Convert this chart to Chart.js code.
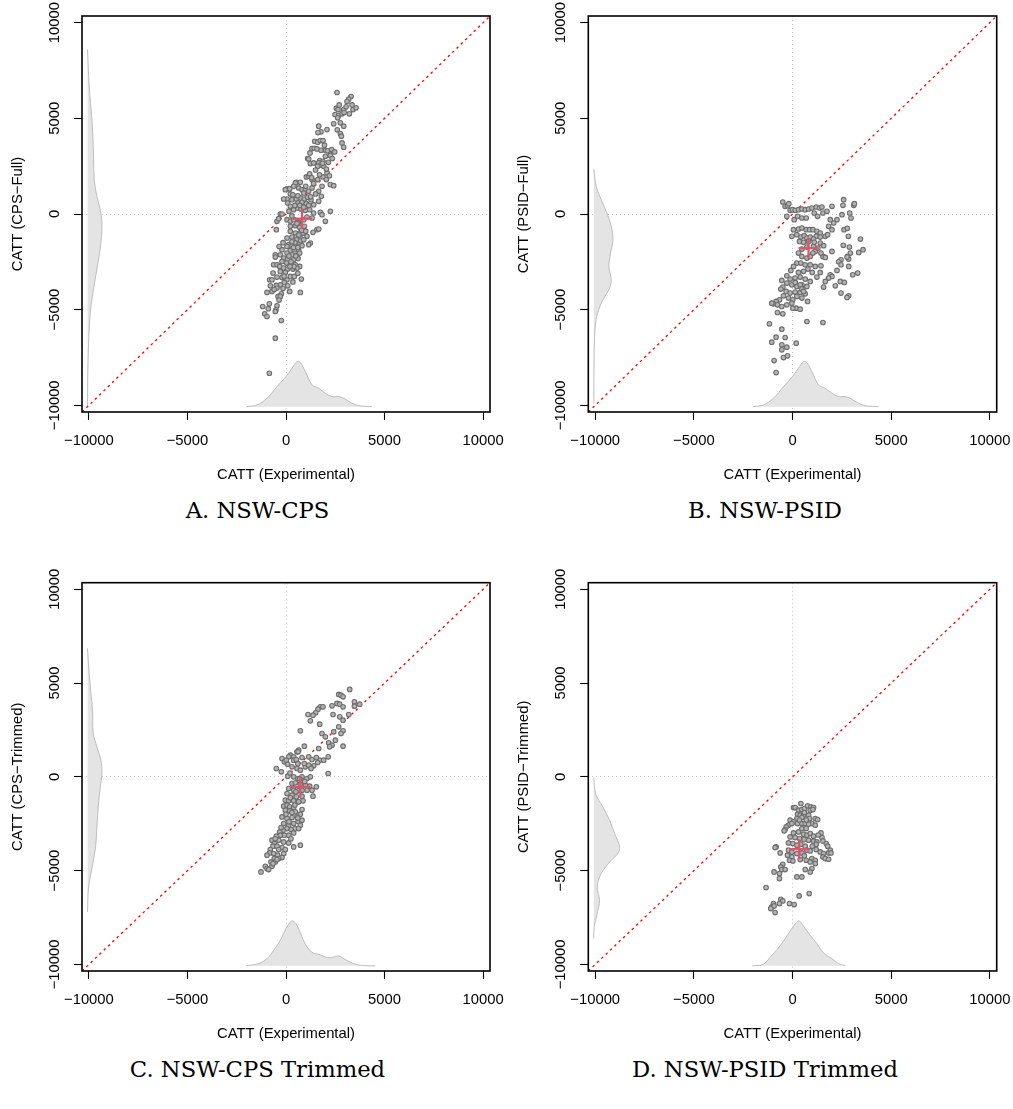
<!DOCTYPE html>
<html><head><meta charset="utf-8">
<script src="https://cdn.jsdelivr.net/npm/chart.js@4.4.1/dist/chart.umd.min.js"></script>
<style>
html,body{margin:0;padding:0;background:#fff;}
body{width:1013px;height:1109px;position:relative;overflow:hidden;}
canvas{position:absolute;}
.cap{position:absolute;width:400px;text-align:center;font-family:"DejaVu Serif",serif;font-size:22.7px;line-height:1;color:#000;white-space:nowrap;}
</style></head><body>
<canvas id="cA" width="506" height="490" style="left:0;top:0"></canvas>
<canvas id="cB" width="507" height="490" style="left:506px;top:0"></canvas>
<canvas id="cC" width="506" height="490" style="left:0;top:560px"></canvas>
<canvas id="cD" width="507" height="490" style="left:506px;top:560px"></canvas>
<div class="cap" style="left:57.5px;top:499px">A. NSW-CPS</div>
<div class="cap" style="left:565px;top:499px">B. NSW-PSID</div>
<div class="cap" style="left:57.5px;top:1058px">C. NSW-CPS Trimmed</div>
<div class="cap" style="left:565px;top:1058px">D. NSW-PSID Trimmed</div>
<script>
const AXIS_MIN = -10350, AXIS_MAX = 10350;
const TICK_VALUES = [-10000, -5000, 0, 5000, 10000];
const X_TITLE = 'CATT (Experimental)';
const Y_TITLES = ['CATT (CPS\u2212Full)', 'CATT (PSID\u2212Full)', 'CATT (CPS\u2212Trimmed)', 'CATT (PSID\u2212Trimmed)'];

const pointsA = [[2589,6352],[3300,6143],[3181,6000],[3097,5880],[2555,5532],[2640,5460],[2927,5460],[3400,5460],[3553,5550],[2487,5200],[2673,5148],[2843,5235],[3215,5235],[2623,5026],[2758,4764],[2420,4712],[2927,4590],[1658,4590],[2081,4415],[1777,4293],[1624,4258],[2758,4205],[2809,4066],[2843,3717],[2927,3490],[1455,3804],[1607,3752],[1743,3840],[1878,3840],[1320,3420],[1438,3438],[1573,3403],[1777,3333],[1997,3333],[2216,3281],[2318,3368],[2470,3246],[1218,3193],[1100,2897],[1150,2880],[1709,2792],[2000,3019],[2250,3054],[1235,2635],[1404,2670],[1658,2670],[1878,2757],[1743,2548],[1912,2495],[1607,2495],[1032,1937],[1150,1972],[1320,1797],[1607,1797],[1878,1937],[2081,2146],[2047,1797],[1827,1448],[2250,1536],[2420,1483],[1658,1187],[1793,925],[1320,1361],[525,1658],[474,1623],[728,1658],[51,1309],[-34,1274],[186,1326],[389,1448],[643,1361],[812,1274],[981,1239],[1150,1187],[220,1047],[51,785],[-118,785],[304,750],[525,785],[728,838],[930,785],[1100,872],[1269,750],[610,576],[812,611],[1032,541],[1404,489],[1658,663],[85,576],[220,401],[389,227],[592,314],[761,262],[981,192],[1201,227],[1404,52],[1743,87],[2250,140],[1827,-35],[-288,0],[-203,0],[-457,-384],[-372,-244],[51,-297],[220,-384],[389,-297],[643,-384],[897,-297],[1066,-157],[1320,-209],[1997,-384],[-491,-820],[220,-646],[474,-611],[728,-611],[930,-646],[1573,-820],[1658,-785],[1370,-960],[220,-907],[474,-995],[694,-995],[863,-995],[51,-1256],[304,-1204],[525,-1204],[728,-1256],[1066,-1169],[1235,-1518],[1150,-1605],[135,-1605],[304,-1658],[525,-1570],[694,-1518],[812,-1658],[220,-1902],[423,-1867],[643,-1902],[-203,-1867],[51,-2042],[304,-2129],[508,-2181],[694,-2042],[-288,-2129],[-542,-2129],[-542,-2251],[-118,-2303],[85,-2356],[389,-2391],[610,-2321],[-203,-2478],[34,-2565],[220,-2652],[474,-2652],[694,-2740],[-626,-2652],[-457,-2652],[-322,-2740],[-118,-2827],[85,-2879],[355,-2879],[558,-2827],[-288,-3001],[-34,-3054],[220,-3263],[423,-3263],[778,-3403],[-660,-3089],[-457,-3298],[-203,-3315],[-829,-3438],[-711,-3438],[51,-3438],[-85,-3578],[-288,-3700],[-491,-3734],[-457,-3874],[85,-3752],[-795,-3752],[-711,-4048],[-964,-4101],[186,-4048],[728,-4101],[-237,-4171],[-406,-4310],[-288,-4310],[-1184,-4834],[-846,-4694],[-457,-4799],[-508,-5008],[-542,-5095],[-1083,-5218],[-964,-5357],[-237,-5567],[-542,-6491],[-846,-8324],[600,-450],[700,-700],[800,-850],[650,-1100],[550,-1350],[450,-1500],[380,-1750],[300,-1450],[600,-1750],[150,-2200],[250,-2500],[400,-2750],[500,-2200],[750,-1400],[900,-1350],[1000,-900],[550,-500],[300,-100],[150,150],[450,450],[700,450],[900,350],[1150,450],[1250,900],[600,950],[350,1000],[900,1100],[1000,1450],[1500,1050],[1400,1600],[1200,2100],[1500,2300],[2150,2700],[2350,2900],[1950,3600],[2100,3300],[2600,4400],[2950,5300],[3050,5600],[3350,5700],[2700,5700],[1300,1900],[1700,2050],[2200,2000],[1850,2650],[2050,2350],[-150,-1500],[-350,-1700],[50,-1700],[200,-2750],[-100,-3250],[-600,-3950],[-350,-4500],[-900,-4950],[-150,-3900],[350,-3550],[600,-3100]];
const meanA = [812, -244];

const pointsB = [[-492,628],[-373,401],[-254,436],[-186,541],[-288,-122],[-119,192],[0,227],[136,192],[305,227],[475,262],[644,227],[814,262],[983,314],[1203,366],[1373,314],[1492,366],[1102,52],[1271,-122],[1542,52],[1746,140],[2000,401],[2593,750],[2559,454],[3102,454],[3136,541],[2899,52],[2966,-209],[2508,-35],[2254,-297],[2085,-471],[1915,-297],[1831,-646],[2000,-820],[2610,-820],[2780,-750],[2831,-1169],[2576,-1640],[2881,-1728],[3441,-1309],[3577,-1867],[3356,-2007],[2797,-2216],[2848,-2356],[2458,-2391],[2339,-2495],[2848,-2740],[2458,-2652],[3305,-3089],[3051,-3176],[2254,-2949],[1915,-3176],[2000,-3263],[1831,-3350],[2424,-3525],[2627,-3578],[2169,-3752],[1661,-3525],[1576,-3822],[2458,-4136],[2848,-4275],[2763,-4363],[1407,-3054],[1237,-3298],[1441,-2705],[1542,-2216],[1661,-2268],[1441,-2042],[1153,-1954],[1288,-1780],[1068,-1693],[729,-1728],[475,-1832],[305,-2042],[475,-2216],[729,-2303],[898,-2216],[1034,-2042],[220,-2565],[424,-2565],[644,-2652],[898,-2652],[1153,-2740],[780,-2879],[1000,-3054],[560,-2999],[305,-3054],[51,-2740],[-85,-2949],[-288,-3228],[-119,-3403],[136,-3350],[390,-3298],[644,-3403],[898,-3525],[475,-3700],[729,-3787],[220,-3787],[-34,-3700],[-288,-3612],[-542,-3473],[-492,-3822],[-593,-3926],[-322,-4048],[-119,-4136],[136,-4083],[390,-4101],[644,-4171],[-458,-4275],[-203,-4397],[17,-4485],[220,-4310],[475,-4397],[763,-4572],[-661,-4485],[-831,-4572],[-966,-4694],[-1051,-4659],[-763,-4746],[-542,-4834],[-288,-4746],[-34,-4659],[186,-4921],[390,-4973],[17,-4921],[-763,-5148],[-492,-5218],[729,-5619],[1542,-5671],[-1170,-5741],[-542,-6020],[-831,-6439],[-373,-6456],[-1051,-6700],[-542,-6840],[186,-6753],[-542,-7102],[-288,-6962],[-458,-7503],[-254,-7416],[-932,-7660],[-831,-8289],[85,-297],[254,-122],[475,-209],[695,-209],[51,-820],[305,-785],[475,-733],[695,-820],[865,-820],[1034,-820],[1237,-907],[1407,-995],[1203,-1169],[1407,-1204],[1661,-1169],[1780,-1082],[-34,-1169],[220,-1082],[424,-1204],[593,-1134],[729,-1256],[898,-1204],[1068,-1309],[356,-1431],[560,-1483],[814,-1431],[1102,-1483],[1407,-1518],[1576,-1658],[2000,-1954],[2932,-2042],[2763,-2251],[390,-3700],[136,-3578],[475,-3926],[560,-4048]];
const meanB = [814, -1780];

const pointsC = [[3232,4658],[2673,4392],[2792,4356],[2894,4267],[2589,3912],[2724,3876],[2894,3734],[3469,4000],[3740,3876],[3469,3769],[2335,3787],[1743,3734],[1878,3734],[1624,3609],[1506,3414],[1370,3289],[1117,3325],[2386,3325],[2724,3200],[3181,3325],[2894,3023],[1235,2987],[1709,2809],[2673,2667],[728,2454],[1827,2311],[2420,2400],[2894,2454],[2792,2311],[1997,2134],[2166,1813],[2335,1689],[2504,1956],[2894,1636],[2216,1600],[930,1636],[643,1422],[558,1334],[220,1156],[389,1067],[135,1067],[389,889],[525,925],[610,1334],[812,1031],[1150,1067],[1320,925],[1709,889],[1912,889],[1607,765],[1404,587],[1235,534],[1540,1031],[1658,1511],[2140,1067],[-203,978],[-85,800],[17,889],[85,676],[304,534],[558,445],[728,356],[981,534],[1150,622],[930,711],[-491,445],[-237,267],[2140,178],[1269,445],[85,36],[389,0],[610,-89],[812,0],[1066,-89],[1235,0],[304,-356],[474,-320],[728,-391],[981,-445],[1201,-498],[1540,-534],[135,-622],[389,-711],[610,-747],[812,-711],[1066,-711],[1320,-711],[51,-889],[304,-978],[525,-1067],[812,-1031],[1370,-1031],[-34,-1245],[135,-1280],[389,-1280],[610,-1334],[863,-1280],[-118,-1565],[51,-1511],[186,-1600],[389,-1636],[-34,-1778],[186,-1814],[474,-1867],[812,-1742],[728,-1991],[-203,-2134],[51,-2222],[304,-2169],[558,-2134],[-118,-2489],[135,-2578],[389,-2489],[610,-2365],[728,-2578],[51,-2756],[270,-2809],[474,-2756],[-152,-2845],[-322,-2934],[389,-2987],[643,-2756],[135,-3111],[-85,-3111],[-288,-3111],[-491,-3165],[-372,-3378],[-118,-3467],[135,-3520],[389,-3734],[728,-3645],[-711,-3378],[-592,-3556],[-660,-3698],[-457,-3698],[-203,-3769],[-34,-3876],[-372,-3876],[-795,-3876],[-829,-4054],[-964,-4178],[-626,-4089],[-423,-4178],[-118,-4089],[-203,-4303],[-372,-4356],[-592,-4356],[-761,-4534],[-542,-4534],[-457,-4409],[-1049,-4765],[-964,-4890],[-711,-4765],[-660,-4623],[-880,-4943],[-1269,-5067],[643,-1334],[220,-1120],[812,-2311],[450,-1500],[300,-1900],[150,-2400],[600,-2200],[-250,-2700],[-550,-3300],[250,-3300],[0,-2000],[500,-800],[950,-250],[700,-100],[200,200],[600,700]];
const meanC = [728, -533];

const pointsD = [[424,-1422],[51,-1636],[136,-1636],[305,-1778],[475,-1742],[610,-1689],[763,-1547],[932,-1600],[1068,-1636],[898,-1778],[1034,-1742],[254,-1991],[390,-2045],[560,-2045],[220,-2222],[475,-2169],[814,-2045],[865,-2222],[1153,-2222],[1271,-2276],[983,-2489],[1153,-2578],[-119,-2311],[51,-2400],[-203,-2578],[-322,-2667],[-373,-2809],[-424,-2880],[-34,-2489],[254,-2489],[475,-2489],[644,-2489],[814,-2525],[475,-2756],[695,-2756],[51,-2987],[305,-2934],[560,-3058],[729,-3111],[898,-3023],[1068,-3165],[1441,-2987],[1492,-3236],[-119,-3200],[136,-3236],[356,-3289],[593,-3343],[814,-3378],[1068,-3431],[1237,-3467],[1203,-3591],[1542,-3414],[1712,-3556],[1780,-3698],[-203,-3520],[17,-3556],[220,-3645],[424,-3591],[644,-3698],[-831,-3734],[-881,-3769],[-203,-3911],[-34,-4000],[220,-4089],[475,-4054],[729,-3911],[898,-3947],[1203,-3876],[1407,-4000],[1576,-4089],[1831,-4054],[1915,-3911],[1949,-4054],[-627,-4054],[-254,-4178],[-34,-4267],[-153,-4445],[17,-4480],[390,-4409],[695,-4445],[983,-4356],[1153,-4445],[1542,-4267],[1661,-4356],[1831,-4392],[1153,-4623],[898,-4534],[-492,-4658],[-593,-4801],[-542,-4943],[-373,-4943],[-932,-5067],[-661,-5156],[-661,-5423],[220,-5334],[475,-5334],[644,-4943],[983,-4890],[898,-5067],[-1339,-5903],[-593,-6525],[-492,-6614],[-153,-6756],[85,-6809],[339,-6347],[847,-6223],[-661,-6756],[-966,-6756],[-1051,-6934],[-932,-6881],[-881,-7236],[-1102,-7023],[600,-1900],[700,-2300],[350,-2300],[1300,-3100],[1000,-3700],[600,-4200]];
const meanD = [339, -3858];

const densExpFull = [[-2013,-10070],[-1472,-9981],[-964,-9632],[-457,-9022],[0,-8498],[305,-8062],[558,-7713],[728,-7765],[981,-8236],[1320,-8934],[1658,-9109],[1997,-9371],[2335,-9545],[2673,-9545],[2927,-9632],[3350,-9894],[3773,-10034],[4365,-10070]];
const densExpCpsTrim = [[-2013,-10070],[-1387,-9957],[-964,-9690],[-626,-9246],[-288,-8712],[0,-8090],[220,-7734],[355,-7681],[558,-7912],[812,-8534],[1066,-9068],[1370,-9388],[1658,-9459],[1997,-9601],[2250,-9637],[2673,-9548],[2927,-9690],[3435,-9957],[3942,-10060],[4535,-10070]];
const densExpPsidTrim = [[-2034,-10070],[-1475,-9992],[-1051,-9512],[-712,-9121],[-373,-8623],[-34,-8090],[305,-7681],[559,-7966],[898,-8446],[1237,-8890],[1576,-9388],[2000,-9690],[2339,-9957],[2678,-10070]];
const densCpsFull = [[-10070,8603],[-9985,6683],[-9849,4937],[-9765,3192],[-9731,1796],[-9595,923],[-9426,225],[-9341,-386],[-9358,-1171],[-9460,-2044],[-9629,-3091],[-9798,-4138],[-9934,-5185],[-10002,-6407],[-10052,-8152],[-10070,-10069]];
const densPsidFull = [[-10070,2356],[-9950,1448],[-9696,750],[-9408,52],[-9188,-646],[-9102,-1344],[-9221,-2042],[-9306,-2740],[-9188,-3438],[-9306,-3961],[-9611,-4485],[-9882,-5183],[-10000,-5881],[-10051,-7102],[-10070,-9894]];
const densCpsTrim = [[-10070,6845],[-9999,5689],[-9898,4445],[-9814,3556],[-9780,2311],[-9594,1600],[-9391,889],[-9340,178],[-9424,-533],[-9526,-1600],[-9594,-2667],[-9661,-3734],[-9830,-4801],[-10016,-5867],[-10070,-7201]];
const densPsidTrim = [[-10070,-36],[-9983,-889],[-9611,-1600],[-9272,-2311],[-9018,-3023],[-8764,-3734],[-8848,-4089],[-9187,-4445],[-9696,-5156],[-9899,-5867],[-9780,-6578],[-9899,-7290],[-10051,-8001],[-10070,-8623]];

const SANS = "'Liberation Sans', Arial, Helvetica, sans-serif";
const FONT = {family: SANS, size: 14.8};
const fmt = v => (v < 0 ? '\u2212' : '') + Math.abs(v);
const toXY = arr => arr.map(p => ({x: p[0], y: p[1]}));

const framePlugin = {
  id: 'frame',
  afterDraw(chart) {
    const {ctx, chartArea: a} = chart;
    ctx.save();
    ctx.strokeStyle = '#000';
    ctx.lineWidth = 1.6;
    ctx.strokeRect(a.left, a.top, a.right - a.left, a.bottom - a.top);
    ctx.restore();
  }
};

function densitySet(arr) {
  return {type: 'line', data: toXY(arr), borderColor: '#bdbdbd', borderWidth: 1,
    backgroundColor: '#e4e4e4', fill: 'shape', pointRadius: 0, tension: 0.35, order: 3};
}

function makeChart(id, pts, mean, densB, densL, yTitle, area) {
  const canvas = document.getElementById(id);
  const W = canvas.width, H = canvas.height;
  const XH = 71.5;
  const gridOpts = {
    drawOnChartArea: true,
    color: c => (c.tick && c.tick.value === 0) ? '#c4c4c4' : 'rgba(0,0,0,0)',
    lineWidth: 1, tickColor: '#000', tickLength: 8, tickWidth: 1.1
  };
  const setTicks = s => { s.ticks = TICK_VALUES.map(v => ({value: v})); };
  new Chart(canvas, {
    type: 'scatter',
    data: {datasets: [
      {type: 'scatter', data: [{x: mean[0], y: mean[1]}], pointStyle: 'cross', pointRadius: 10,
        pointBorderWidth: 2.3, borderColor: '#DF536B', backgroundColor: '#DF536B', order: 0},
      {type: 'scatter', data: toXY(pts), pointRadius: 2.3, borderWidth: 1.1,
        borderColor: '#6e6e6e', backgroundColor: '#b4b4b4', order: 1},
      {type: 'line', data: [{x: AXIS_MIN, y: AXIS_MIN}, {x: AXIS_MAX, y: AXIS_MAX}], borderColor: '#ff0000',
        borderWidth: 1.3, borderDash: [2.5, 3.5], pointRadius: 0, fill: false, order: 2},
      densitySet(densB),
      densitySet(densL)
    ]},
    options: {
      responsive: false, animation: false, devicePixelRatio: 1, events: [],
      layout: {padding: {left: 0, top: area.T, right: W - area.R, bottom: H - area.B - XH}},
      plugins: {legend: {display: false}, tooltip: {enabled: false}, title: {display: false}},
      scales: {
        x: {
          type: 'linear', min: AXIS_MIN, max: AXIS_MAX, afterBuildTicks: setTicks,
          ticks: {autoSkip: false, minRotation: 0, maxRotation: 0, padding: 12, font: FONT, color: '#000', callback: fmt},
          grid: gridOpts, border: {display: false, dash: [1, 3]},
          title: {display: true, text: X_TITLE, font: FONT, color: '#000', padding: {top: 0, bottom: 0}},
          afterFit: s => { s.height = XH; s.paddingLeft = 0; s.paddingRight = 0; }
        },
        y: {
          type: 'linear', min: AXIS_MIN, max: AXIS_MAX, afterBuildTicks: setTicks,
          ticks: {autoSkip: false, minRotation: 90, maxRotation: 90, crossAlign: 'center', padding: -5.9,
            font: FONT, color: '#000', callback: fmt},
          grid: gridOpts, border: {display: false, dash: [1, 3]},
          title: {display: true, text: yTitle, font: FONT, color: '#000', padding: {top: 9.4, bottom: 0}},
          afterFit: s => { s.width = area.L; s.paddingTop = 0; s.paddingBottom = 0; }
        }
      }
    },
    plugins: [framePlugin]
  });
}

makeChart('cA', pointsA, meanA, densExpFull, densCpsFull, Y_TITLES[0], {L: 82, T: 16, R: 490, B: 412});
makeChart('cB', pointsB, meanB, densExpFull, densPsidFull, Y_TITLES[1], {L: 82.3, T: 16, R: 490.7, B: 412});
makeChart('cC', pointsC, meanC, densExpCpsTrim, densCpsTrim, Y_TITLES[2], {L: 82, T: 22.7, R: 490, B: 411});
makeChart('cD', pointsD, meanD, densExpPsidTrim, densPsidTrim, Y_TITLES[3], {L: 82.3, T: 22.7, R: 490.7, B: 411});
</script>
</body></html>
